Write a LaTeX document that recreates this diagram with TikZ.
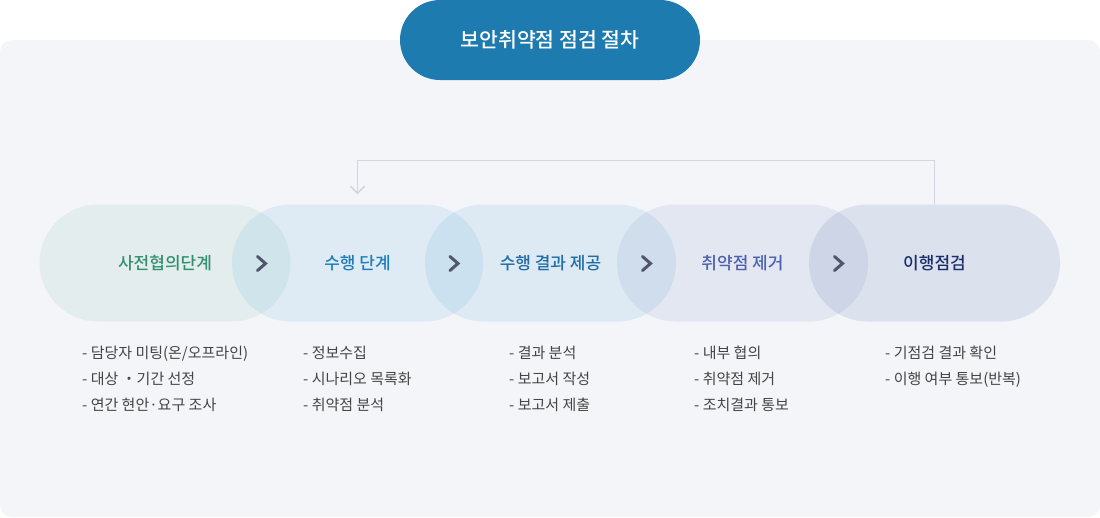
\documentclass[tikz,border=0pt]{standalone}
\usepackage{fontspec}
\setmainfont{Noto Sans CJK KR}
\newfontfamily\medfont{Noto Sans CJK KR Medium}
\usetikzlibrary{arrows.meta,calc}
\definecolor{bgc}{HTML}{F4F5F9}
\definecolor{titlec}{HTML}{1E7BB0}
\definecolor{pa}{RGB}{159,205,194}
\definecolor{pb}{RGB}{134,195,224}
\definecolor{pc}{RGB}{129,185,219}
\definecolor{pd}{RGB}{159,175,214}
\definecolor{pe}{RGB}{119,145,189}
\definecolor{ta}{HTML}{33906F}
\definecolor{tb}{HTML}{1E7DBA}
\definecolor{tc}{HTML}{1F6CA8}
\definecolor{td}{HTML}{4E60AE}
\definecolor{te}{HTML}{1A2D6C}
\definecolor{chev}{HTML}{50566B}
\definecolor{fbc}{HTML}{D2D6DE}
\definecolor{listc}{HTML}{444444}
\begin{document}
\begin{tikzpicture}[x=1pt,y=-1pt,
  pill/.style={rectangle, rounded corners=58.5pt, minimum width=251pt, minimum height=117pt,
    inner sep=0pt, fill opacity=0.2, text opacity=1, font=\fontsize{17}{17}\selectfont\medfont},
  chevron/.style={draw=chev, line width=3pt, line cap=round},
  feedback/.style={draw=fbc, line width=1.5pt, -{Straight Barb[length=7pt,width=14pt]}},
  listtext/.style={anchor=base west, align=left, text=listc, inner sep=0pt,
    font=\fontsize{15}{26}\selectfont}]
\useasboundingbox (0,0) rectangle (1100,517);
\fill[white] (0,0) rectangle (1100,517);
\fill[bgc, rounded corners=12pt] (0,40) rectangle (1100,517);
\node[fill=titlec, rectangle, rounded corners=40pt, minimum width=300pt, minimum height=80pt,
  inner sep=0pt, text=white, font=\fontsize{20.5}{20.5}\selectfont\medfont] (title) at (550,40) {보안취약점 점검 절차};

\node[pill, fill=pa, text=ta] (p1) at (165,263) {사전협의단계};
\node[pill, fill=pb, text=tb] (p2) at (357.5,263) {수행 단계};
\node[pill, fill=pc, text=tc] (p3) at (550.5,263) {수행 결과 제공};
\node[pill, fill=pd, text=td] (p4) at (742.5,263) {취약점 제거};
\node[pill, fill=pe, text=te] (p5) at (934.5,263) {이행점검};

\foreach \c in {261.5,454,646.5,838.5}{
  \draw[chevron] (\c-4,256.5) -- (\c+4,263.5) -- (\c-4,270.5);
}

\coordinate (fbturn) at ($(p2.north)+(0pt,44pt)$);
\coordinate (fbend) at ($(p2.north)+(0pt,10pt)$);
\draw[feedback] (p5.north) |- (fbturn) -- (fbend);

\node[listtext] (l1) at (82,410) {- 담당자 미팅(온/오프라인)\\- 대상 ・기간 선정\\- 연간 현안·요구 조사};
\node[listtext] (l2) at (303,410) {- 정보수집\\- 시나리오 목록화\\- 취약점 분석};
\node[listtext] (l3) at (509,410) {- 결과 분석\\- 보고서 작성\\- 보고서 제출};
\node[listtext] (l4) at (694,410) {- 내부 협의\\- 취약점 제거\\- 조치결과 통보};
\node[listtext] (l5) at (885,384) {- 기점검 결과 확인\\- 이행 여부 통보(반복)};
\end{tikzpicture}
\end{document}
